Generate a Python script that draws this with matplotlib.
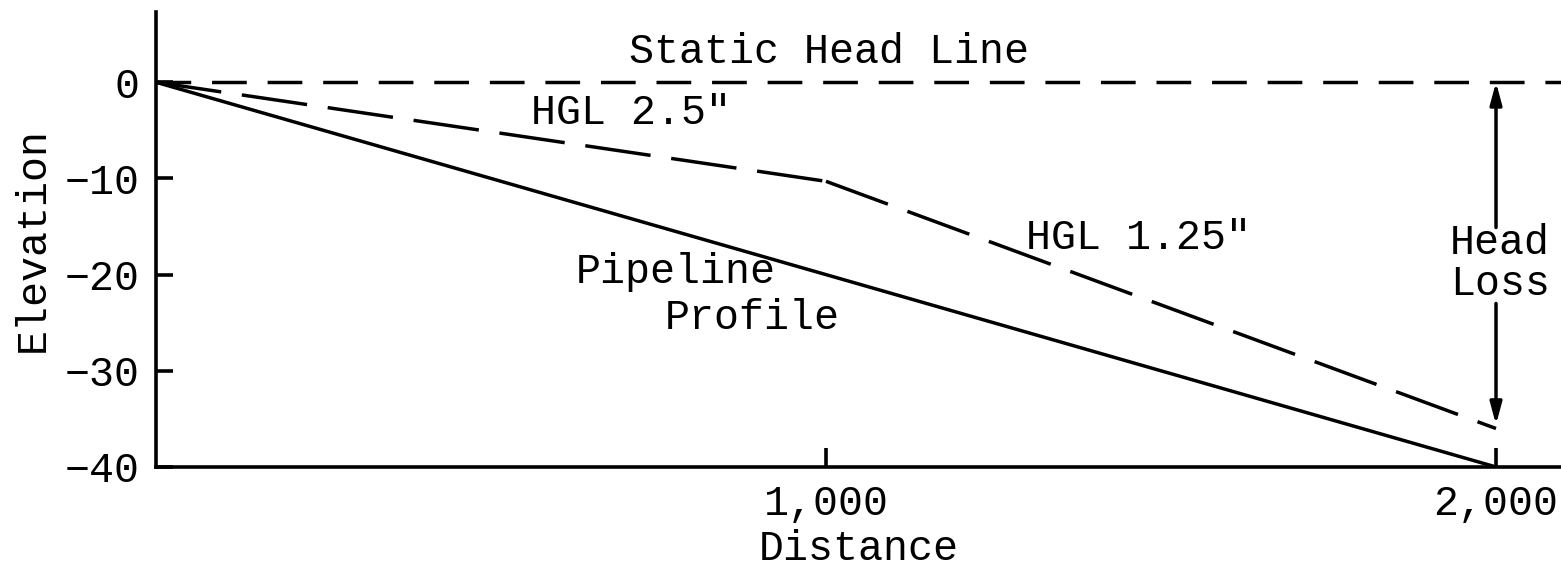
import matplotlib.pyplot as plt

plt.rcParams['font.family'] = ['Liberation Mono', 'DejaVu Sans Mono']
plt.rcParams['axes.unicode_minus'] = True

# pipeline profile and hydraulic grade lines (distance, elevation)
dist_profile = [0, 2000]
elev_profile = [0, -40]

dist_hgl_25 = [0, 1000]
elev_hgl_25 = [0, -10.3]

dist_hgl_125 = [1000, 2000]
elev_hgl_125 = [-10.3, -36.0]

static_dist = [0, 2100]
static_elev = [0, 0]

xticks = [1000, 2000]
xticklabels = ['1,000', '2,000']
yticks = [0, -10, -20, -30, -40]

fs = 30
lw = 2.5

fig = plt.figure(figsize=(15.61, 5.67), dpi=100)
ax = fig.add_axes([0.0999, 0.1764, 0.9001, 0.8024])

ax.plot(dist_profile, elev_profile, color='black', lw=lw, solid_capstyle='butt')
ax.plot(static_dist, static_elev, color='black', lw=lw, dashes=(10, 6))
ax.plot(dist_hgl_25, elev_hgl_25, color='black', lw=lw, dashes=(19, 6))
ax.plot(dist_hgl_125, elev_hgl_125, color='black', lw=lw, dashes=(19, 6))

ax.set_xlim(0, 2097)
ax.set_ylim(-40, 7.3)

for side in ('top', 'right'):
    ax.spines[side].set_visible(False)
for side in ('left', 'bottom'):
    ax.spines[side].set_linewidth(2.6)

ax.set_xticks(xticks)
ax.set_xticklabels(xticklabels)
ax.set_yticks(yticks)
ax.tick_params(axis='x', direction='in', length=14, width=2.6, pad=12, labelsize=fs)
ax.tick_params(axis='y', direction='in', length=12, width=2.6, pad=12, labelsize=fs)

ax.set_xlabel('Distance', fontsize=fs, labelpad=4)
ax.set_ylabel('Elevation', fontsize=fs, labelpad=8)

ax.text(1004, 3.1, 'Static Head Line', fontsize=fs, ha='center', va='center')
ax.text(560, -3.2, 'HGL 2.5"', fontsize=fs, ha='left', va='center')
ax.text(1298, -16.2, 'HGL 1.25"', fontsize=fs, ha='left', va='center')
ax.text(776, -19.7, 'Pipeline', fontsize=fs, ha='center', va='center')
ax.text(890, -24.5, 'Profile', fontsize=fs, ha='center', va='center')
ax.text(2006, -16.7, 'Head', fontsize=fs, ha='center', va='center')
ax.text(2006, -21.0, 'Loss', fontsize=fs, ha='center', va='center')

# head loss arrows, broken around the label
arrow = dict(arrowstyle='-|>,head_length=1.3,head_width=0.35', color='black',
             lw=lw, shrinkA=0, shrinkB=0)
ax.annotate('', xy=(2000, 0), xytext=(2000, -15.1), arrowprops=arrow)
ax.annotate('', xy=(2000, -35.6), xytext=(2000, -23.0), arrowprops=arrow)

fig.savefig('out.png', dpi=100)
